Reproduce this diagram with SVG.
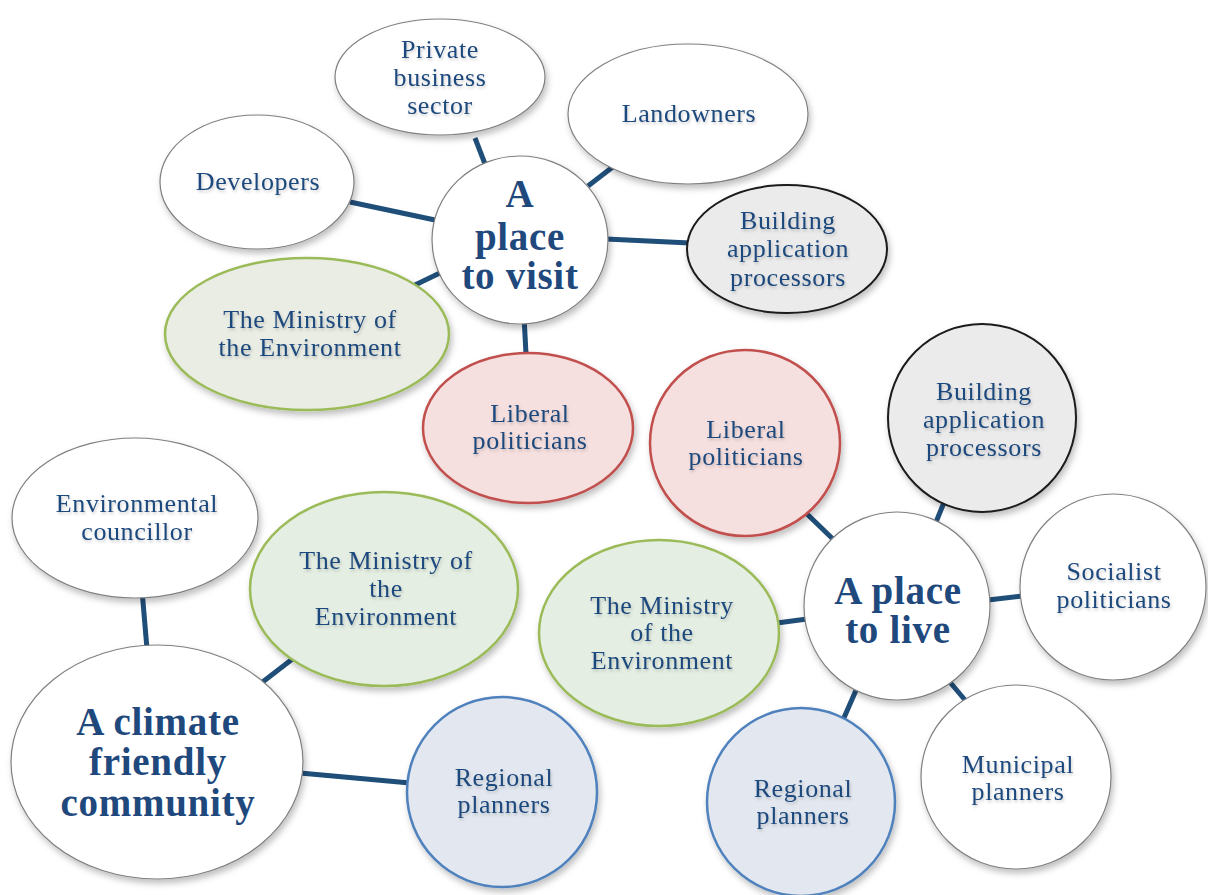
<svg xmlns="http://www.w3.org/2000/svg" width="1208" height="895" viewBox="0 0 1208 895">
<defs>
<filter id="sh" x="-20%" y="-20%" width="140%" height="150%">
<feDropShadow dx="2" dy="4" stdDeviation="3" flood-color="#000" flood-opacity="0.25"/>
</filter>
<filter id="ts" x="-10%" y="-20%" width="120%" height="160%">
<feDropShadow dx="1" dy="2" stdDeviation="1.5" flood-color="#000" flood-opacity="0.2"/>
</filter>
</defs>
<style>
.w{fill:#fff;stroke:#7f7f7f;stroke-width:1.2;filter:url(#sh)}
.g{fill:#e9ede4;stroke:#9bbb59;stroke-width:2.5;filter:url(#sh)}
.g2{fill:#e4eee2;stroke:#9bbb59;stroke-width:2.5;filter:url(#sh)}
.r{fill:#f6e0df;stroke:#c0504d;stroke-width:2.5;filter:url(#sh)}
.b{fill:#e3e8f0;stroke:#4f81bd;stroke-width:2.5;filter:url(#sh)}
.k{fill:#ebebeb;stroke:#1a1a1a;stroke-width:2;filter:url(#sh)}
text{font-family:"Liberation Serif","DejaVu Serif",serif;fill:#1f497d;text-anchor:middle}
.t{font-size:26px;letter-spacing:0.6px;filter:url(#ts)}
.h{font-size:39px;font-weight:bold;letter-spacing:0.7px}
.c line{stroke:#1f4e79;stroke-width:5;stroke-linecap:butt}
</style>
<g class="c" id="connectors">
<line x1="475" y1="138" x2="485" y2="164"/>
<line x1="588" y1="186" x2="614" y2="166"/>
<line x1="350" y1="202" x2="435" y2="220"/>
<line x1="606" y1="239" x2="690" y2="243"/>
<line x1="415" y1="285" x2="444" y2="271"/>
<line x1="524" y1="316" x2="526" y2="354"/>
<line x1="806" y1="513" x2="837" y2="543"/>
<line x1="945" y1="500" x2="934" y2="527"/>
<line x1="988" y1="600" x2="1022" y2="596"/>
<line x1="777" y1="623" x2="807" y2="619"/>
<line x1="857" y1="688" x2="843" y2="720"/>
<line x1="949" y1="681" x2="965" y2="700"/>
<line x1="142" y1="590" x2="147" y2="649"/>
<line x1="260" y1="684" x2="295" y2="657"/>
<line x1="300" y1="773" x2="410" y2="783"/>
</g>
<g id="private"><ellipse class="w" cx="440" cy="77" rx="105" ry="58"/><text class="t" x="440" y="58">Private</text><text class="t" x="440" y="86">business</text><text class="t" x="440" y="114">sector</text></g>
<g id="landowners"><ellipse class="w" cx="688" cy="114" rx="120" ry="70"/><text class="t" x="689" y="122">Landowners</text></g>
<g id="developers"><ellipse class="w" cx="257" cy="182" rx="97" ry="67"/><text class="t" x="258" y="190">Developers</text></g>
<g id="visit"><ellipse class="w" cx="520" cy="240" rx="88" ry="84"/><text class="h" x="520" y="207">A</text><text class="h" x="520" y="250">place</text><text class="h" x="520" y="289">to visit</text></g>
<g id="bap1"><ellipse class="k" cx="787" cy="249" rx="100" ry="64"/><text class="t" x="788" y="229">Building</text><text class="t" x="788" y="257">application</text><text class="t" x="788" y="286">processors</text></g>
<g id="ministry1"><ellipse class="g" cx="307" cy="334" rx="142" ry="76"/><text class="t" x="310" y="328">The Ministry of</text><text class="t" x="310" y="356">the Environment</text></g>
<g id="liberal1"><ellipse class="r" cx="528" cy="428" rx="105" ry="75"/><text class="t" x="530" y="422">Liberal</text><text class="t" x="530" y="449">politicians</text></g>
<g id="liberal2"><ellipse class="r" cx="745" cy="443" rx="95" ry="93"/><text class="t" x="746" y="438">Liberal</text><text class="t" x="746" y="465">politicians</text></g>
<g id="bap2"><ellipse class="k" cx="982" cy="418" rx="94" ry="94"/><text class="t" x="984" y="400">Building</text><text class="t" x="984" y="428">application</text><text class="t" x="984" y="456">processors</text></g>
<g id="envcouncillor"><ellipse class="w" cx="135" cy="518" rx="123" ry="80"/><text class="t" x="137" y="512">Environmental</text><text class="t" x="137" y="540">councillor</text></g>
<g id="ministry2"><ellipse class="g2" cx="384" cy="589" rx="134" ry="97"/><text class="t" x="386" y="569">The Ministry of</text><text class="t" x="386" y="597">the</text><text class="t" x="386" y="625">Environment</text></g>
<g id="ministry3"><ellipse class="g2" cx="659" cy="633" rx="120" ry="93"/><text class="t" x="662" y="614">The Ministry</text><text class="t" x="662" y="641">of the</text><text class="t" x="662" y="669">Environment</text></g>
<g id="live"><ellipse class="w" cx="897" cy="606" rx="93" ry="94"/><text class="h" x="898" y="604">A place</text><text class="h" x="898" y="643">to live</text></g>
<g id="socialist"><ellipse class="w" cx="1113" cy="587" rx="93" ry="93"/><text class="t" x="1114" y="580">Socialist</text><text class="t" x="1114" y="608">politicians</text></g>
<g id="climate"><ellipse class="w" cx="157" cy="762" rx="146" ry="117"/><text class="h" x="158" y="735">A climate</text><text class="h" x="158" y="775">friendly</text><text class="h" x="158" y="816">community</text></g>
<g id="regional1"><ellipse class="b" cx="502" cy="792" rx="95" ry="95"/><text class="t" x="504" y="786">Regional</text><text class="t" x="504" y="813">planners</text></g>
<g id="regional2"><ellipse class="b" cx="801" cy="802" rx="94" ry="94"/><text class="t" x="803" y="797">Regional</text><text class="t" x="803" y="824">planners</text></g>
<g id="municipal"><ellipse class="w" cx="1016" cy="777" rx="95" ry="92"/><text class="t" x="1018" y="773">Municipal</text><text class="t" x="1018" y="800">planners</text></g>
</svg>
